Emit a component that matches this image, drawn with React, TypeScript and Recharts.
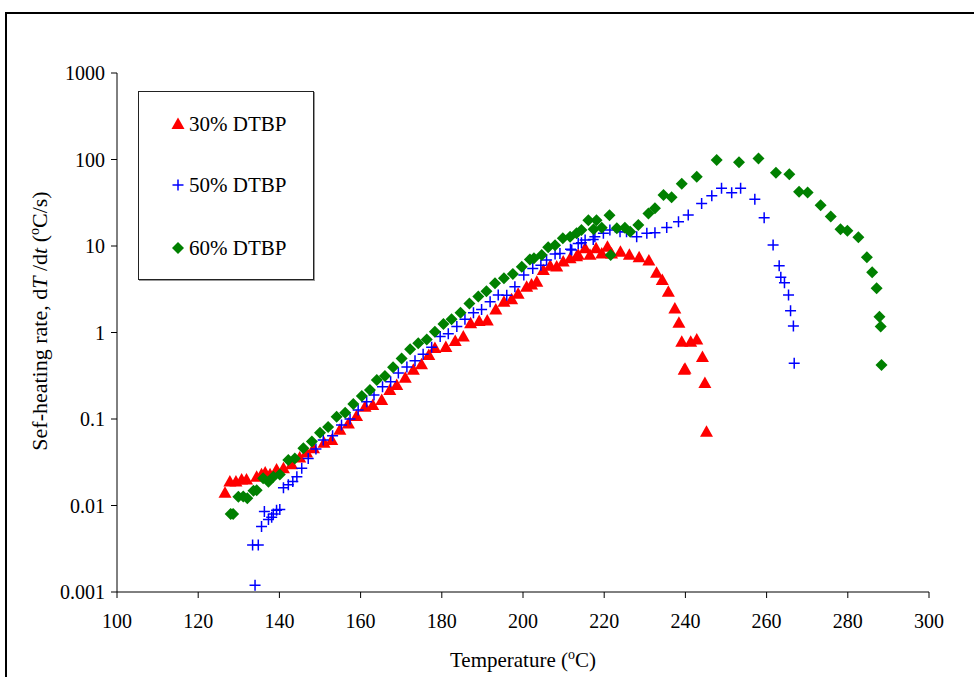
import React from "react";
import { ScatterChart, Scatter, XAxis, YAxis } from "recharts";

// [temperature °C, self-heating rate °C/s]
const dtbp30: [number, number][] = [
  [126.6, 0.014], [127.8, 0.019], [129.3, 0.019], [130.7, 0.02], [131.9, 0.02],
  [134.4, 0.0215], [135.6, 0.023], [136.5, 0.024], [137.7, 0.023], [139.3, 0.026],
  [141.0, 0.027], [143.0, 0.03], [145.0, 0.036], [146.7, 0.041], [148.4, 0.046],
  [151.0, 0.053], [152.9, 0.057], [154.9, 0.075], [157.0, 0.089], [159.0, 0.108],
  [161.1, 0.139], [163.0, 0.145], [165.2, 0.166], [167.2, 0.216], [168.9, 0.247],
  [171.0, 0.3], [173.0, 0.37], [175.0, 0.43], [176.8, 0.55], [178.3, 0.66],
  [181.0, 0.68], [183.3, 0.8], [185.3, 0.9], [187.1, 1.28], [189.2, 1.36],
  [191.2, 1.38], [193.3, 1.85], [195.3, 2.27], [197.2, 2.42], [198.8, 2.8],
  [200.9, 3.38], [202.1, 3.6], [203.4, 3.87], [205.0, 5.28], [206.7, 5.9],
  [208.3, 5.78], [209.9, 6.6], [211.6, 7.2], [213.2, 7.6], [213.6, 7.9],
  [215.3, 9.4], [216.5, 7.9], [218.0, 9.4], [219.4, 8.2], [220.8, 9.8],
  [221.8, 8.2], [224.0, 8.6], [226.2, 7.9], [228.6, 7.4], [231.0, 6.8],
  [232.9, 4.9], [234.3, 4.05], [235.8, 2.96], [237.4, 1.9], [238.4, 1.3],
  [239.1, 0.78], [239.7, 0.37], [239.9, 0.38], [241.3, 0.78], [242.8, 0.83],
  [244.2, 0.52], [244.8, 0.26], [245.2, 0.071],
];

const dtbp50: [number, number][] = [
  [134.0, 0.0012], [133.4, 0.0035], [134.8, 0.0035], [135.6, 0.0057], [136.3, 0.0085],
  [137.3, 0.0069], [138.1, 0.0073], [138.5, 0.008], [139.3, 0.0088], [140.1, 0.009],
  [141.0, 0.016], [142.2, 0.0174], [143.3, 0.019], [144.3, 0.0215], [145.5, 0.027],
  [147.1, 0.035], [149.0, 0.045], [150.8, 0.057], [153.1, 0.064], [155.3, 0.085],
  [157.4, 0.1], [159.4, 0.127], [161.5, 0.158], [163.3, 0.189], [165.4, 0.236],
  [167.4, 0.27], [169.3, 0.34], [171.4, 0.4], [173.4, 0.47], [175.4, 0.56],
  [177.5, 0.675], [179.6, 0.9], [181.6, 0.97], [183.7, 1.17], [185.7, 1.42],
  [187.8, 1.69], [189.8, 1.85], [191.9, 2.27], [193.9, 2.71], [196.0, 2.7],
  [198.0, 3.38], [200.2, 4.62], [202.4, 5.5], [204.4, 6.0], [205.8, 6.9],
  [207.9, 8.1], [209.1, 8.2], [211.7, 9.2], [212.0, 9.0], [213.6, 10.7],
  [214.4, 10.9], [215.3, 11.7], [217.3, 11.9], [217.7, 12.8], [219.8, 14.0],
  [221.4, 15.3], [223.9, 14.6], [225.5, 14.6], [228.0, 12.8], [230.5, 14.0],
  [232.5, 14.2], [235.4, 16.4], [238.3, 19.1], [240.7, 22.8], [244.0, 31],
  [246.5, 38], [248.9, 46.5], [251.4, 41.3], [253.6, 46.5], [257.1, 34.7],
  [259.4, 21.2], [261.6, 10.3], [263.1, 5.9], [263.5, 4.35], [264.4, 3.77],
  [265.4, 2.71], [265.9, 1.79], [266.6, 1.19], [266.8, 0.44],
];

const dtbp60: [number, number][] = [
  [128.0, 0.008], [128.6, 0.008], [129.9, 0.0126], [131.1, 0.0127], [132.1, 0.0121],
  [133.6, 0.0148], [134.4, 0.015], [136.0, 0.0206], [137.3, 0.0188], [138.5, 0.0215],
  [140.1, 0.0228], [142.2, 0.0336], [143.8, 0.035], [145.9, 0.046], [148.0, 0.055],
  [150.0, 0.0695], [152.0, 0.081], [154.1, 0.106], [156.2, 0.118], [158.2, 0.149],
  [160.3, 0.185], [162.3, 0.216], [164.0, 0.282], [166.0, 0.314], [168.0, 0.396],
  [170.1, 0.5], [172.2, 0.64], [174.2, 0.75], [176.3, 0.83], [178.3, 1.02],
  [180.4, 1.25], [182.4, 1.42], [184.6, 1.69], [186.8, 2.17], [189.0, 2.6],
  [191.0, 3.0], [193.1, 3.7], [195.3, 4.23], [197.5, 4.75], [199.7, 5.77],
  [201.7, 7.0], [202.7, 7.2], [204.6, 7.87], [206.2, 9.66], [207.9, 10.2],
  [209.8, 12.3], [211.6, 12.8], [213.2, 14.0], [214.4, 15.3], [216.1, 19.9],
  [217.4, 15.6], [218.1, 19.9], [219.4, 16.3], [221.3, 22.7], [221.6, 7.87],
  [223.1, 16.0], [225.1, 16.3], [226.4, 14.6], [228.4, 17.5], [230.9, 23.8],
  [232.5, 27.3], [234.6, 38.9], [236.6, 36.5], [239.1, 52.5], [242.8, 63.3],
  [247.7, 98.6], [253.2, 92.8], [258.0, 103], [262.3, 70.4], [265.6, 67.4],
  [268.0, 42.5], [270.1, 41.6], [273.3, 29.5], [275.8, 22.0], [278.2, 15.6],
  [279.9, 15.0], [282.6, 12.6], [284.7, 7.4], [286.0, 4.97], [287.1, 3.24],
  [287.8, 1.52], [288.1, 1.17], [288.3, 0.42],
];

const xTicks = [100, 120, 140, 160, 180, 200, 220, 240, 260, 280, 300];
const yTicks = [0.001, 0.01, 0.1, 1, 10, 100, 1000];

const RED = "#ff0000";
const BLUE = "#0000ff";
const GREEN = "#008000";
const FONT = '"Liberation Serif", "Times New Roman", serif';

const toPoints = (arr: [number, number][]) => arr.map(([x, y]) => ({ x, y }));

function Triangle({ cx, cy }: any) {
  return <path d={`M${cx},${cy - 6.5} L${cx + 6.5},${cy + 5} L${cx - 6.5},${cy + 5} Z`} fill={RED} />;
}

function Plus({ cx, cy }: any) {
  return (
    <path
      d={`M${cx - 5.5},${cy} H${cx + 5.5} M${cx},${cy - 5.5} V${cy + 5.5}`}
      stroke={BLUE}
      strokeWidth={1.5}
      fill="none"
    />
  );
}

function Diamond({ cx, cy }: any) {
  return <path d={`M${cx},${cy - 6} L${cx + 6},${cy} L${cx},${cy + 6} L${cx - 6},${cy} Z`} fill={GREEN} />;
}

function XTick({ x, payload }: any) {
  return (
    <text x={x} y={628} textAnchor="middle" fontSize={20} fontFamily={FONT} fill="#000">
      {payload.value}
    </text>
  );
}

function YTick({ x, y, payload }: any) {
  return (
    <text x={x - 4} y={y + 7} textAnchor="end" fontSize={20} fontFamily={FONT} fill="#000">
      {String(payload.value)}
    </text>
  );
}

const legendItems = [
  { name: "30% DTBP", Shape: Triangle, top: 124 },
  { name: "50% DTBP", Shape: Plus, top: 185 },
  { name: "60% DTBP", Shape: Diamond, top: 248 },
];

export default function App() {
  return (
    <div
      style={{
        position: "fixed",
        left: 0,
        top: 0,
        width: 974,
        height: 677,
        overflow: "hidden",
        background: "#fff",
        fontFamily: FONT,
      }}
    >
      {/* outer frame */}
      <div
        style={{
          position: "absolute",
          left: 5,
          top: 12,
          width: 1000,
          height: 700,
          border: "2px solid #000",
        }}
      />

      <div style={{ position: "absolute", left: 0, top: 0 }}>
        <ScatterChart width={974} height={677} margin={{ top: 73, right: 45, bottom: 45, left: 57 }}>
          <XAxis
            type="number"
            dataKey="x"
            domain={[100, 300]}
            ticks={xTicks}
            interval={0}
            allowDataOverflow
            height={40}
            stroke="#000"
            tickSize={6}
            tick={<XTick />}
            label={{
              content: () => (
                <text x={523} y={667} textAnchor="middle" fontSize={21} fontFamily={FONT} fill="#000">
                  Temperature (<tspan dy={-8} fontSize={14}>o</tspan>
                  <tspan dy={8}>C)</tspan>
                </text>
              ),
            }}
          />
          <YAxis
            type="number"
            dataKey="y"
            scale="log"
            domain={[0.001, 1000]}
            ticks={yTicks}
            interval={0}
            allowDataOverflow
            width={60}
            stroke="#000"
            tickSize={6}
            tick={<YTick />}
            label={{
              content: () => (
                <text
                  x={0}
                  y={0}
                  transform="translate(47 321) rotate(-90)"
                  textAnchor="middle"
                  fontSize={22}
                  fontFamily={FONT}
                  fill="#000"
                >
                  Sef-heating rate, d<tspan fontStyle="italic">T</tspan> /d<tspan fontStyle="italic">t</tspan> (
                  <tspan dy={-8} fontSize={14}>o</tspan>
                  <tspan dy={8}>C/s)</tspan>
                </text>
              ),
            }}
          />
          <Scatter name="30% DTBP" data={toPoints(dtbp30)} shape={Triangle} isAnimationActive={false} />
          <Scatter name="50% DTBP" data={toPoints(dtbp50)} shape={Plus} isAnimationActive={false} />
          <Scatter name="60% DTBP" data={toPoints(dtbp60)} shape={Diamond} isAnimationActive={false} />
        </ScatterChart>
      </div>

      {/* legend box */}
      <div
        style={{
          position: "absolute",
          left: 138,
          top: 91,
          width: 174,
          height: 187,
          border: "1px solid #222",
          boxShadow: "1px 1px 0 #999",
          background: "#fff",
        }}
      />
      {legendItems.map(({ name, Shape, top }) => (
        <div
          key={name}
          style={{
            position: "absolute",
            left: 170,
            top: top - 12,
            height: 24,
            display: "flex",
            alignItems: "center",
            fontSize: 21,
            color: "#000",
            whiteSpace: "nowrap",
          }}
        >
          <svg width={16} height={16} style={{ marginRight: 3 }}>
            <Shape cx={8} cy={8} />
          </svg>
          {name}
        </div>
      ))}
    </div>
  );
}
